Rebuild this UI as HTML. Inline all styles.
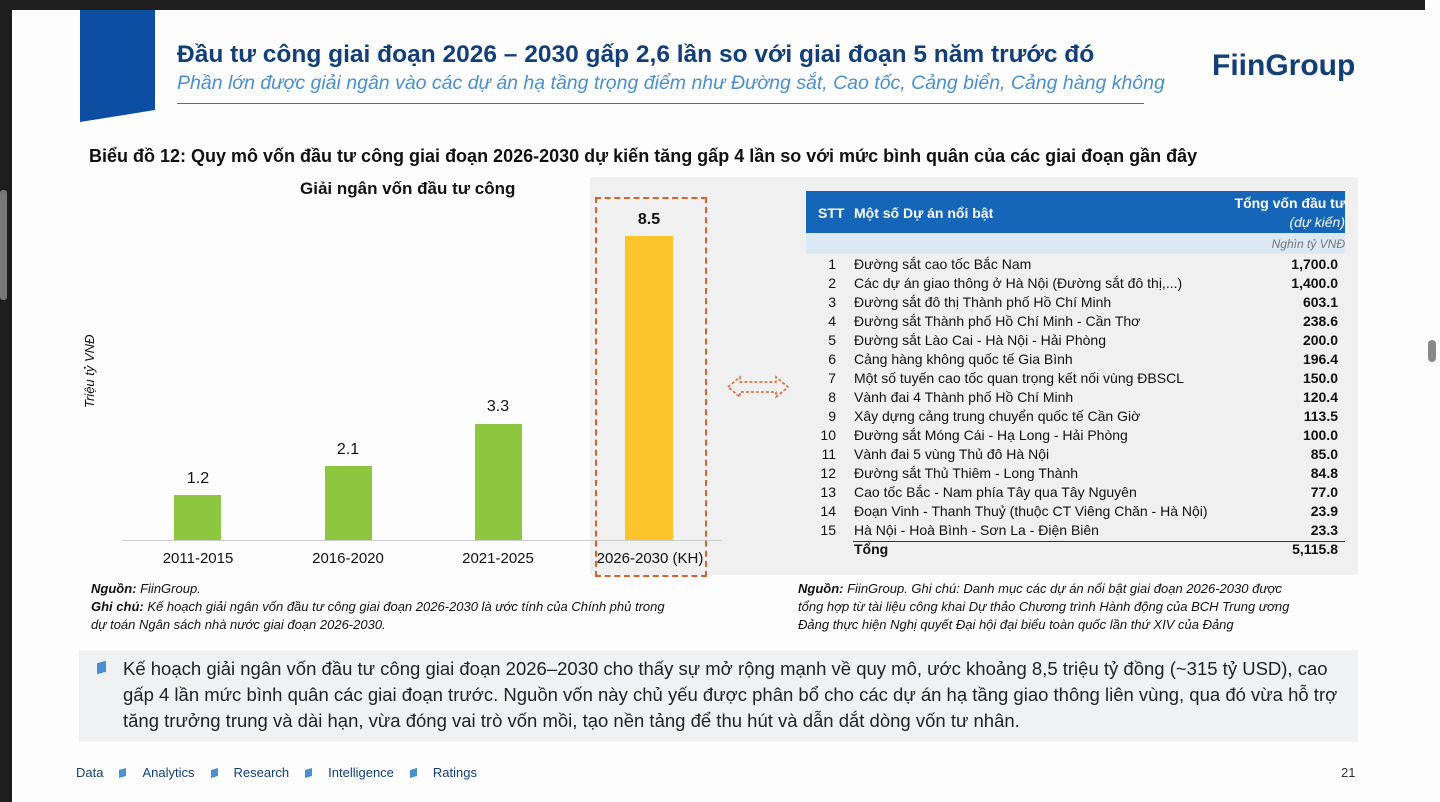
<!DOCTYPE html>
<html><head><meta charset="utf-8"><style>
body{margin:0;width:1440px;height:802px;overflow:hidden;background:#fdfdfd;font-family:"Liberation Sans",sans-serif;position:relative;color:#111}
.a{position:absolute;white-space:nowrap}
.row{position:absolute;left:806px;width:532px;height:19px;font-size:14px;line-height:19px}
.row .n{position:absolute;left:0;width:30px;text-align:right}
.row .t{position:absolute;left:48px}
.row .v{position:absolute;right:0;font-weight:bold}
.bar{position:absolute;background:#8dc63f}
.lbl{position:absolute;font-size:15px;width:100px;text-align:center}
.foot{font-size:13px;font-style:italic;line-height:18px}
.sq{display:inline-block;width:7px;height:8px;background:#4a8fd0;margin:0 16px;transform:skewY(-15deg)}
</style></head><body>
<div class="a" style="left:0;top:0;width:1425px;height:10px;background:#1e1e1e"></div>
<div class="a" style="left:0;top:0;width:12px;height:802px;background:#1e1e1e"></div>
<div class="a" style="left:0;top:190px;width:7px;height:110px;background:#777;border-radius:3px"></div>
<div class="a" style="left:1428px;top:340px;width:8px;height:22px;background:#888;border-radius:4px"></div>
<svg class="a" style="left:80px;top:10px" width="76" height="112"><polygon points="0,0 75,0 75,100 0,112" fill="#0b4ea2"/></svg>
<div class="a" style="left:177px;top:41px;font-size:24.5px;font-weight:bold;color:#123f78">Đầu tư công giai đoạn 2026 – 2030 gấp 2,6 lần so với giai đoạn 5 năm trước đó</div>
<div class="a" style="left:177px;top:72px;font-size:19.5px;font-style:italic;color:#4a8fd0">Phần lớn được giải ngân vào các dự án hạ tầng trọng điểm như Đường sắt, Cao tốc, Cảng biển, Cảng hàng không</div>
<div class="a" style="left:177px;top:103px;width:967px;height:1px;background:#667"></div>
<div class="a" style="left:1212px;top:49px;font-size:30px;font-weight:bold;color:#123f78">FiinGroup</div>
<div class="a" style="left:89px;top:146px;font-size:18px;font-weight:bold">Biểu đồ 12: Quy mô vốn đầu tư công giai đoạn 2026-2030 dự kiến tăng gấp 4 lần so với mức bình quân của các giai đoạn gần đây</div>
<div class="a" style="left:590px;top:177px;width:768px;height:398px;background:#f0f0f0"></div>
<div class="a" style="left:300px;top:179px;font-size:17px;font-weight:bold">Giải ngân vốn đầu tư công</div>
<div class="a" style="left:82px;top:408px;font-size:13px;font-style:italic;transform:rotate(-90deg);transform-origin:0 0">Triệu tỷ VNĐ</div>
<div class="a" style="left:122px;top:540px;width:600px;height:1px;background:#ccc"></div>
<div class="bar" style="left:174px;top:495px;width:47px;height:45px"></div>
<div class="bar" style="left:325px;top:466px;width:47px;height:74px"></div>
<div class="bar" style="left:475px;top:424px;width:47px;height:116px"></div>
<div class="bar" style="left:625px;top:236px;width:48px;height:304px;background:#fdc52b"></div>
<div class="lbl" style="left:148px;top:470px;font-size:16px">1.2</div>
<div class="lbl" style="left:298px;top:441px;font-size:16px">2.1</div>
<div class="lbl" style="left:448px;top:398px;font-size:16px">3.3</div>
<div class="lbl" style="left:599px;top:211px;font-size:16px;font-weight:bold">8.5</div>
<div class="lbl" style="left:148px;top:550px">2011-2015</div>
<div class="lbl" style="left:298px;top:550px">2016-2020</div>
<div class="lbl" style="left:448px;top:550px">2021-2025</div>
<div class="lbl" style="left:594px;top:550px;width:112px">2026-2030 (KH)</div>
<div class="a" style="left:595px;top:197px;width:108px;height:376px;border:2px dashed #d9622b"></div>
<svg class="a" style="left:726px;top:374px" width="64" height="26"><polygon points="2,13 14,3 14,8 50,8 50,3 62,13 50,23 50,18 14,18 14,23" fill="none" stroke="#d9622b" stroke-width="1.5" stroke-dasharray="3,2"/></svg>
<div class="a" style="left:806px;top:191px;width:539px;height:42px;background:#1565b8"></div>
<div class="a" style="left:806px;top:233px;width:539px;height:21px;background:#dce8f4"></div>
<div class="a" style="left:818px;top:205px;font-size:14px;font-weight:bold;color:#fff">STT</div>
<div class="a" style="left:854px;top:205px;font-size:14px;font-weight:bold;color:#fff">Một số Dự án nổi bật</div>
<div class="a" style="left:1200px;top:195px;width:145px;text-align:right;font-size:14px;font-weight:bold;color:#fff">Tổng vốn đầu tư</div>
<div class="a" style="left:1200px;top:214px;width:145px;text-align:right;font-size:14px;font-style:italic;color:#fff">(dự kiến)</div>
<div class="a" style="left:1200px;top:237px;width:145px;text-align:right;font-size:12px;font-style:italic;color:#777">Nghìn tỷ VNĐ</div>
<div class="row" style="top:255px"><span class="n">1</span><span class="t">Đường sắt cao tốc Bắc Nam</span><span class="v">1,700.0</span></div>
<div class="row" style="top:274px"><span class="n">2</span><span class="t">Các dự án giao thông ở Hà Nội (Đường sắt đô thị,...)</span><span class="v">1,400.0</span></div>
<div class="row" style="top:293px"><span class="n">3</span><span class="t">Đường sắt đô thị Thành phố Hồ Chí Minh</span><span class="v">603.1</span></div>
<div class="row" style="top:312px"><span class="n">4</span><span class="t">Đường sắt Thành phố Hồ Chí Minh - Cần Thơ</span><span class="v">238.6</span></div>
<div class="row" style="top:331px"><span class="n">5</span><span class="t">Đường sắt Lào Cai - Hà Nội - Hải Phòng</span><span class="v">200.0</span></div>
<div class="row" style="top:350px"><span class="n">6</span><span class="t">Cảng hàng không quốc tế Gia Bình</span><span class="v">196.4</span></div>
<div class="row" style="top:369px"><span class="n">7</span><span class="t">Một số tuyến cao tốc quan trọng kết nối vùng ĐBSCL</span><span class="v">150.0</span></div>
<div class="row" style="top:388px"><span class="n">8</span><span class="t">Vành đai 4 Thành phố Hồ Chí Minh</span><span class="v">120.4</span></div>
<div class="row" style="top:407px"><span class="n">9</span><span class="t">Xây dựng cảng trung chuyển quốc tế Cần Giờ</span><span class="v">113.5</span></div>
<div class="row" style="top:426px"><span class="n">10</span><span class="t">Đường sắt Móng Cái - Hạ Long - Hải Phòng</span><span class="v">100.0</span></div>
<div class="row" style="top:445px"><span class="n">11</span><span class="t">Vành đai 5 vùng Thủ đô Hà Nội</span><span class="v">85.0</span></div>
<div class="row" style="top:464px"><span class="n">12</span><span class="t">Đường sắt Thủ Thiêm - Long Thành</span><span class="v">84.8</span></div>
<div class="row" style="top:483px"><span class="n">13</span><span class="t">Cao tốc Bắc - Nam phía Tây qua Tây Nguyên</span><span class="v">77.0</span></div>
<div class="row" style="top:502px"><span class="n">14</span><span class="t">Đoạn Vinh - Thanh Thuỷ (thuộc CT Viêng Chăn - Hà Nội)</span><span class="v">23.9</span></div>
<div class="row" style="top:521px"><span class="n">15</span><span class="t">Hà Nội - Hoà Bình - Sơn La - Điện Biên</span><span class="v">23.3</span></div>
<div class="a" style="left:853px;top:541px;width:492px;height:1px;background:#333"></div>
<div class="row" style="top:540px"><span class="t" style="font-weight:bold">Tổng</span><span class="v">5,115.8</span></div>
<div class="a foot" style="left:91px;top:580px"><b>Nguồn:</b> FiinGroup.<br><b>Ghi chú:</b> Kế hoạch giải ngân vốn đầu tư công giai đoạn 2026-2030 là ước tính của Chính phủ trong<br>dự toán Ngân sách nhà nước giai đoạn 2026-2030.</div>
<div class="a foot" style="left:798px;top:580px"><b>Nguồn:</b> FiinGroup. Ghi chú: Danh mục các dự án nổi bật giai đoạn 2026-2030 được<br>tổng hợp từ tài liệu công khai Dự thảo Chương trình Hành động của BCH Trung ương<br>Đảng thực hiện Nghị quyết Đại hội đại biểu toàn quốc lần thứ XIV của Đảng</div>
<div class="a" style="left:79px;top:650px;width:1279px;height:92px;background:#f0f1f2"></div>
<div class="a" style="left:97px;top:662px;width:9px;height:11px;background:#4a8fd0;transform:skewY(-15deg)"></div>
<div class="a" style="left:123px;top:656px;font-size:18.5px;line-height:26px;color:#222">Kế hoạch giải ngân vốn đầu tư công giai đoạn 2026–2030 cho thấy sự mở rộng mạnh về quy mô, ước khoảng 8,5 triệu tỷ đồng (~315 tỷ USD), cao<br>gấp 4 lần mức bình quân các giai đoạn trước. Nguồn vốn này chủ yếu được phân bổ cho các dự án hạ tầng giao thông liên vùng, qua đó vừa hỗ trợ<br>tăng trưởng trung và dài hạn, vừa đóng vai trò vốn mồi, tạo nền tảng để thu hút và dẫn dắt dòng vốn tư nhân.</div>
<div class="a" style="left:76px;top:765px;font-size:13px;color:#123f78">Data<span class="sq"></span>Analytics<span class="sq"></span>Research<span class="sq"></span>Intelligence<span class="sq"></span>Ratings</div>
<div class="a" style="left:1341px;top:765px;font-size:13px;color:#333">21</div>
</body></html>
